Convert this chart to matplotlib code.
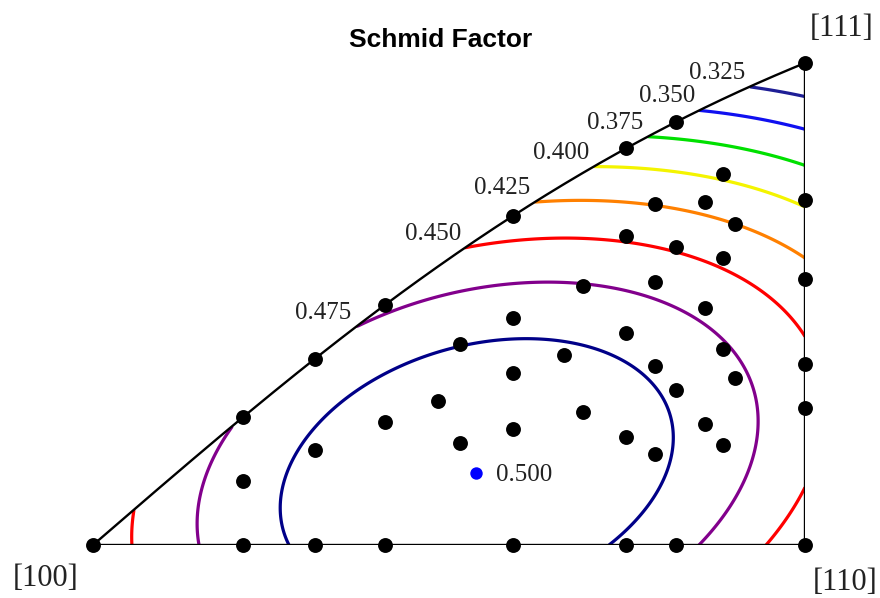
import numpy as np
import matplotlib.pyplot as plt
from matplotlib.patches import Polygon

# contour levels of the max FCC {111}<110> Schmid factor, and their colours
levels = [0.300, 0.325, 0.350, 0.375, 0.400, 0.425, 0.450, 0.475]
level_colors = ['#1e1e96', '#1010f0', '#00e000', '#f4f400', '#ff8000', '#ff0000', '#82008c', '#000088']
# text printed at the upper end of each contour on the [100]-[111] edge
edge_labels = ['0.325', '0.350', '0.375', '0.400', '0.425', '0.450', '0.475']
peak_label = '0.500'

# triangle corners and their labels
corners = [(1, 0, 0), (1, 1, 0), (1, 1, 1)]
corner_labels = ['[100]', '[110]', '[111]']

# measured orientations (Miller indices)
edge_dirs = [(6, 1, 0), (4, 1, 0), (3, 1, 0), (2, 1, 0), (3, 2, 0), (4, 3, 0),
             (3, 3, 2), (2, 2, 1), (3, 3, 1), (4, 4, 1),
             (6, 1, 1), (4, 1, 1), (3, 1, 1), (2, 1, 1), (3, 2, 2), (4, 3, 3)]
inner_dirs = [(12, 2, 1), (8, 2, 1), (6, 2, 1), (5, 2, 1), (7, 3, 1), (7, 3, 2),
              (6, 3, 2), (4, 2, 1), (6, 3, 1), (7, 4, 2), (5, 3, 2), (5, 3, 1),
              (6, 4, 3), (3, 2, 1), (6, 4, 1), (7, 5, 4), (7, 5, 3), (7, 5, 2),
              (7, 5, 1), (4, 3, 2), (4, 3, 1), (5, 4, 3), (5, 4, 2), (5, 4, 1),
              (6, 5, 4), (6, 5, 3), (6, 5, 2), (6, 5, 1), (7, 6, 4), (7, 6, 2)]

# primary slip system giving the 0.5 maximum
primary_n = (1, 1, -1)
primary_b = (1, 0, 1)


def unit(v):
    v = np.asarray(v, float)
    return v / np.linalg.norm(v, axis=-1, keepdims=True)


def proj(v):
    # azimuth from [100] towards [110], elevation above (001)
    v = unit(v)
    return np.degrees(np.arctan2(v[..., 1], v[..., 0])), np.degrees(np.arcsin(v[..., 2]))


def arc(a, b, n=300):
    a, b = unit(a), unit(b)
    w = np.arccos(np.clip(a @ b, -1, 1))
    t = np.linspace(0, 1, n)[:, None]
    return (np.sin((1 - t) * w) * a + np.sin(t * w) * b) / np.sin(w)


normals = [(1, 1, 1), (-1, 1, 1), (1, -1, 1), (1, 1, -1)]
dirs = [(1, -1, 0), (1, 0, -1), (0, 1, -1), (1, 1, 0), (1, 0, 1), (0, 1, 1)]
systems = [(unit(n), unit(b)) for n in normals for b in dirs if np.dot(n, b) == 0]


def schmid(v):
    v = unit(v)
    return np.max([np.abs((v @ n) * (v @ b)) for n, b in systems], axis=0)


plt.rcParams['font.family'] = ['Liberation Serif', 'DejaVu Serif']
fig = plt.figure(figsize=(8.8, 5.98), dpi=100)
ax = fig.add_axes([93 / 880, 53 / 598, 712 / 880, 482 / 598])

c100, c110, c111 = corners
phi_max = proj(c110)[0]
lam_max = proj(c111)[1]

# grid in plot coordinates
P, L = np.meshgrid(np.linspace(0, phi_max, 500), np.linspace(0, lam_max, 500))
pr, lr = np.radians(P), np.radians(L)
V = np.stack([np.cos(lr) * np.cos(pr), np.cos(lr) * np.sin(pr), np.sin(lr)], axis=-1)
SF = schmid(V)

# triangle outline
e1 = np.column_stack(proj(arc(c100, c110)))
e2 = np.column_stack(proj(arc(c110, c111)))
hyp = arc(c100, c111)
e3 = np.column_stack(proj(hyp))
outline = np.vstack([e1, e2, e3[::-1]])
clip = Polygon(outline, closed=True, transform=ax.transData, facecolor='none', edgecolor='none')
ax.add_patch(clip)

cs = ax.contour(P, L, SF, levels=levels, colors=level_colors, linewidths=2.3, zorder=2)
cs.set_clip_path(clip)

for e in (e1, e2, e3):
    ax.plot(e[:, 0], e[:, 1], color='black', lw=1.7, zorder=3, solid_capstyle='round')

# labels at the upper crossing of each contour with the [100]-[111] edge
sf_h = schmid(hyp)
for lev, txt in zip(levels, edge_labels):
    d = sf_h - lev
    idx = np.where(np.sign(d[:-1]) != np.sign(d[1:]))[0]
    if len(idx) == 0:
        continue
    i = idx[-1]
    f = d[i] / (d[i] - d[i + 1])
    x = e3[i, 0] + f * (e3[i + 1, 0] - e3[i, 0])
    y = e3[i, 1] + f * (e3[i + 1, 1] - e3[i, 1])
    ax.annotate(txt, (x, y), xytext=(-4, 3), textcoords='offset pixels',
                ha='right', va='bottom', fontsize=18, color='#222222')

# orientation dots
pts = np.array(corners + edge_dirs + inner_dirs)
px, py = proj(pts)
ax.scatter(px, py, s=115, color='black', zorder=4, clip_on=False, linewidths=0)

# maximum point
pk = unit(unit(primary_n) + unit(primary_b))
kx, ky = proj(pk)
ax.scatter([kx], [ky], s=80, color='#0000ff', zorder=4, linewidths=0)
ax.annotate(peak_label, (kx, ky), xytext=(20, -2), textcoords='offset pixels',
            ha='left', va='center', fontsize=18, color='#222222')

# corner labels
offsets = [(-15, -19, 'right', 'top'), (8, -23, 'left', 'top'), (5, 20, 'left', 'bottom')]
for c, lab, (dx, dy, ha, va) in zip(corners, corner_labels, offsets):
    cx, cy = proj(c)
    ax.annotate(lab, (cx, cy), xytext=(dx, dy), textcoords='offset pixels',
                ha=ha, va=va, fontsize=22, color='#222222')

fig.text(441 / 880, 1 - 40 / 598, 'Schmid Factor', ha='center', va='center',
         fontsize=19, fontweight='bold', family=['Liberation Sans', 'DejaVu Sans'])

ax.set_xlim(0, phi_max)
ax.set_ylim(0, lam_max)
ax.axis('off')

fig.savefig('out.png', dpi=100)
